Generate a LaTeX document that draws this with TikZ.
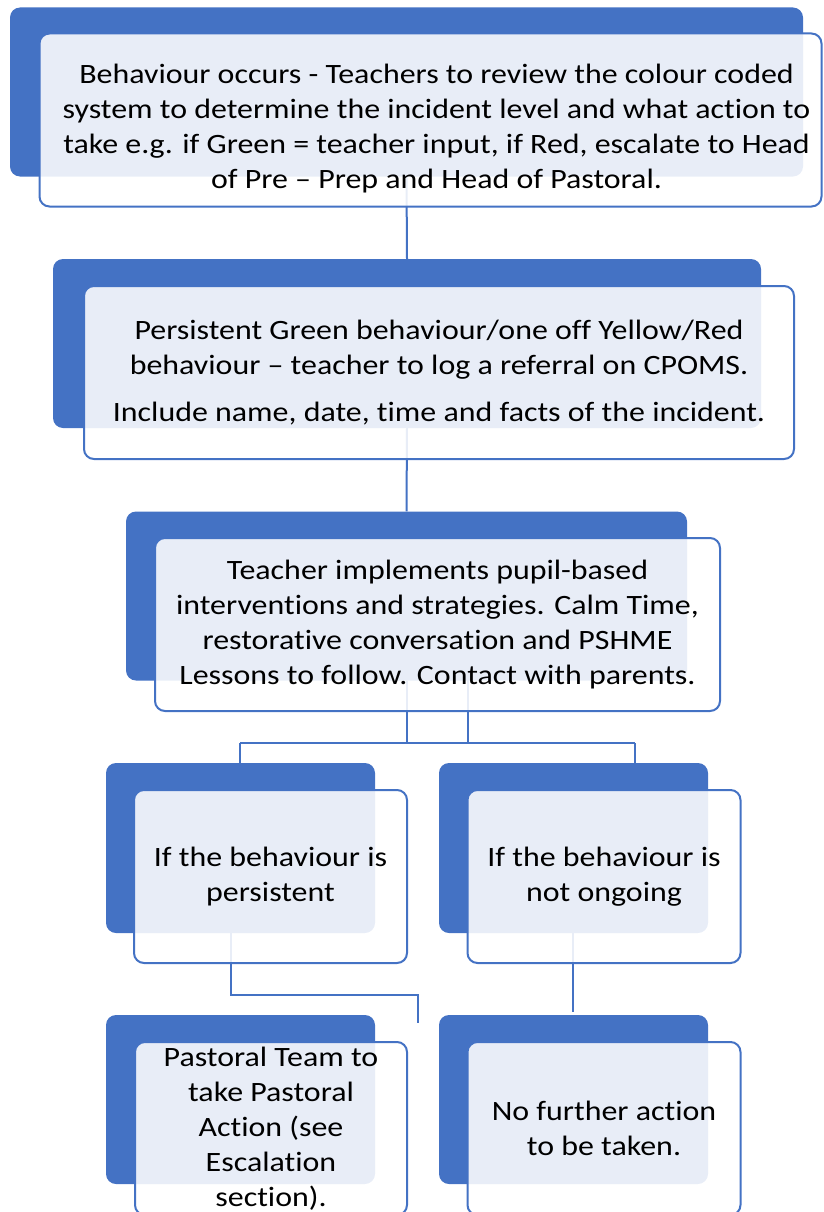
\documentclass[tikz,border=0pt]{standalone}
\usepackage{fontspec}
\setmainfont{Carlito}[FakeStretch=1.14,Ligatures=NoCommon]
\definecolor{artblue}{HTML}{4472C4}

\begin{document}
\begin{tikzpicture}[x=1pt,y=-1pt,
  back/.style={fill=artblue,rounded corners=10pt,inner sep=0pt,minimum height=169pt},
  front/.style={draw=artblue,line width=2pt,fill=white,fill opacity=0.88,text opacity=1,
    rounded corners=10pt,inner sep=0pt,align=center,minimum height=173pt,
    font=\fontsize{28}{35}\selectfont},
  link/.style={draw=artblue,line width=2pt}]
\clip (0,0) rectangle (823,1212);
\useasboundingbox (0,0) rectangle (823,1212);
% back plates
\node[back,minimum width=793pt] (b1) at (406.5,92) {};
\node[back,minimum width=708pt] (b2) at (407,343.5) {};
\node[back,minimum width=561pt] (b3) at (406.5,596) {};
\node[back,minimum width=269pt,minimum height=170pt] (b4l) at (240.5,848) {};
\node[back,minimum width=269pt,minimum height=170pt] (b4r) at (573.5,848) {};
\node[back,minimum width=269pt] (b5l) at (240.5,1099.5) {};
\node[back,minimum width=269pt] (b5r) at (573.5,1099.5) {};
% connectors
\coordinate (tap) at (468,680);
\coordinate (barL) at (240,743);
\coordinate (barR) at (635,743);
\coordinate (kneeL) at (231,995);
\coordinate (kneeR) at (418,995);
\coordinate (endL) at (418,1023);
\coordinate (dropR) at (573,1012);
\draw[link] (b1.south) -- (b2.north);
\draw[link] (b2.south) -- (b3.north);
\draw[link] (b3.south) -- (b3.south |- barL);
\draw[link] (tap) -- (tap |- barL);
\draw[link] (barL) -- (barR);
\draw[link] (barL) -- (barL |- b4l.north);
\draw[link] (barR) -- (barR |- b4r.north);
\draw[link] (kneeL |- b4l.south) -- (kneeL) -- (kneeR) -- (endL);
\draw[link] (dropR |- b4r.south) -- (dropR);
% front cards
\node[front,minimum width=782pt] (f1) at (430.5,120) {\rule{0pt}{36pt}\hspace{12pt}Behaviour occurs - Teachers to review the colour coded\\\hspace{12pt}system to determine the incident level and what action to\\\hspace{12pt}take e.g. if Green = teacher input, if Red, escalate to Head\\\hspace{12pt}of Pre – Prep and Head of Pastoral.};
\node[front,minimum width=710pt] (f2) at (439,372.5) {Persistent Green behaviour/one off Yellow/Red\\behaviour – teacher to log a referral on CPOMS.\\[12pt]Include name, date, time and facts of the incident.};
\node[front,minimum width=565pt] (f3) at (437.5,624.5) {Teacher implements pupil-based\\interventions and strategies. Calm Time,\\restorative conversation and PSHME\\Lessons to follow. Contact with parents.};
\node[front,minimum width=273pt] (f4l) at (270.5,876.5) {If the behaviour is\\persistent};
\node[front,minimum width=273pt] (f4r) at (604,876.5) {If the behaviour is\\not ongoing};
\node[front,minimum width=272pt] (f5l) at (271,1128.5) {Pastoral Team to\\take Pastoral\\Action (see\\Escalation\\section).};
\node[front,minimum width=273pt] (f5r) at (604,1128.5) {No further action\\to be taken.};
\end{tikzpicture}
\end{document}
